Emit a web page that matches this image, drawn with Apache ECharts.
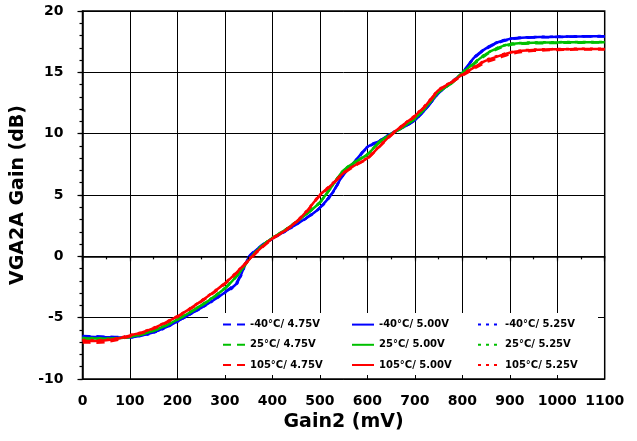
<!DOCTYPE html>
<html>
<head>
<meta charset="utf-8">
<script src="https://cdn.jsdelivr.net/npm/echarts@6/dist/echarts.min.js"></script>
<style>html,body{margin:0;padding:0;background:#fff}#c{width:637px;height:441px}</style>
</head>
<body>
<div id="c"></div>
<script>
// Gain2 (mV) sample points
const gain2 = [0,25,50,75,100,125,150,175,200,225,250,275,300,325,350,375,400,425,450,475,500,525,550,575,600,625,650,675,700,725,750,775,800,825,850,875,900,925,950,975,1000,1025,1050,1075,1100];

// VGA2A gain (dB)
const m40_475 = [-6.5,-6.52,-6.55,-6.58,-6.57,-6.42,-6.18,-5.78,-5.28,-4.72,-4.15,-3.55,-2.9,-2.1,-0.05,0.82,1.47,2.02,2.62,3.22,3.97,5.1,6.65,7.75,8.85,9.38,9.98,10.5,11.1,12.1,13.3,14.08,14.92,16.15,16.9,17.4,17.68,17.8,17.84,17.86,17.88,17.9,17.91,17.92,17.93];
const m40_500 = [-6.55,-6.57,-6.6,-6.62,-6.6,-6.45,-6.2,-5.8,-5.3,-4.75,-4.2,-3.6,-2.95,-2.2,-0.1,0.8,1.45,2.0,2.6,3.2,3.95,5.1,6.7,7.8,8.9,9.4,10.0,10.5,11.1,12.1,13.3,14.1,14.95,16.2,16.95,17.45,17.72,17.82,17.86,17.88,17.9,17.92,17.93,17.94,17.95];
const m40_525 = [-6.58,-6.6,-6.62,-6.64,-6.62,-6.47,-6.22,-5.82,-5.32,-4.77,-4.22,-3.62,-2.97,-2.25,-0.15,0.78,1.43,1.98,2.58,3.18,3.93,5.05,6.7,7.82,8.92,9.42,10.02,10.52,11.12,12.12,13.32,14.12,14.97,16.22,16.97,17.47,17.74,17.84,17.88,17.9,17.92,17.93,17.94,17.95,17.96];
const p25_475 = [-6.72,-6.74,-6.75,-6.7,-6.57,-6.37,-6.07,-5.67,-5.17,-4.62,-4.02,-3.37,-2.62,-1.62,-0.32,0.73,1.48,2.08,2.78,3.53,4.38,5.68,6.98,7.68,8.28,9.28,9.92,10.52,11.22,12.22,13.38,14.02,14.9,15.68,16.42,16.92,17.22,17.32,17.36,17.38,17.4,17.41,17.42,17.43,17.43];
const p25_500 = [-6.68,-6.7,-6.72,-6.68,-6.55,-6.35,-6.05,-5.65,-5.15,-4.6,-4.0,-3.35,-2.6,-1.6,-0.3,0.75,1.5,2.1,2.8,3.55,4.4,5.7,7.0,7.7,8.3,9.3,9.95,10.55,11.25,12.25,13.4,14.05,14.95,15.75,16.5,17.0,17.3,17.38,17.42,17.43,17.44,17.45,17.45,17.46,17.46];
const p25_525 = [-6.65,-6.67,-6.7,-6.66,-6.53,-6.33,-6.03,-5.63,-5.13,-4.58,-3.98,-3.33,-2.58,-1.58,-0.28,0.77,1.52,2.12,2.82,3.57,4.42,5.72,7.02,7.72,8.32,9.32,9.97,10.57,11.27,12.27,13.42,14.07,14.97,15.78,16.52,17.02,17.32,17.4,17.44,17.45,17.46,17.47,17.47,17.48,17.48];
const p105_475 = [-7.02,-7.04,-6.98,-6.8,-6.52,-6.26,-5.9,-5.45,-4.95,-4.35,-3.7,-3.0,-2.25,-1.35,-0.35,0.6,1.42,2.02,2.77,3.75,4.95,5.8,6.75,7.4,7.95,8.9,9.85,10.65,11.4,12.35,13.5,14.1,14.72,15.3,15.82,16.15,16.48,16.66,16.75,16.8,16.83,16.85,16.86,16.87,16.87];
const p105_500 = [-6.88,-6.9,-6.85,-6.7,-6.45,-6.2,-5.85,-5.4,-4.9,-4.3,-3.65,-2.95,-2.2,-1.3,-0.3,0.65,1.45,2.05,2.8,3.8,5.0,5.85,6.8,7.45,8.0,8.95,9.9,10.7,11.45,12.4,13.55,14.15,14.8,15.4,15.95,16.3,16.6,16.75,16.82,16.86,16.88,16.89,16.9,16.9,16.9];
const p105_525 = [-6.82,-6.84,-6.8,-6.66,-6.42,-6.17,-5.82,-5.37,-4.87,-4.27,-3.62,-2.92,-2.17,-1.27,-0.27,0.68,1.48,2.08,2.83,3.83,5.03,5.88,6.83,7.48,8.03,8.98,9.93,10.73,11.48,12.43,13.58,14.18,14.84,15.45,16.0,16.35,16.64,16.78,16.85,16.88,16.9,16.91,16.92,16.92,16.92];

const seriesNames = [
  ['-40°C/ 4.75V','-40°C/ 5.00V','-40°C/ 5.25V'],
  ['25°C/ 4.75V','25°C/ 5.00V','25°C/ 5.25V'],
  ['105°C/ 4.75V','105°C/ 5.00V','105°C/ 5.25V']
];
const seriesData = [[m40_475,m40_500,m40_525],[p25_475,p25_500,p25_525],[p105_475,p105_500,p105_525]];
const colors = ['#0000ff','#00c000','#ff0000'];
const dashTypes = [[8,6],'solid',[3,5]];

const FONT = 'DejaVu Sans';
const series = [];
for (let t = 0; t < 3; t++) {
  for (let v = 0; v < 3; v++) {
    series.push({
      name: seriesNames[t][v],
      type: 'line',
      symbol: 'none',
      smooth: 0.3,
      xAxisIndex: 0, yAxisIndex: 0,
      data: gain2.map((x, i) => [x, seriesData[t][v][i]]),
      lineStyle: { color: colors[t], width: 2.5, type: dashTypes[v] },
      itemStyle: { color: colors[t] },
      z: 3
    });
  }
}

function legendCol(col, left) {
  return {
    orient: 'vertical', left: left, top: 319,
    itemWidth: 22, itemHeight: 14, itemGap: 9, padding: 0,
    itemStyle: { opacity: 0 },
    textStyle: { fontFamily: FONT, fontWeight: 'bold', fontSize: 10, color: '#000' },
    data: [seriesNames[0][col], seriesNames[1][col], seriesNames[2][col]]
  };
}

const chart = echarts.init(document.getElementById('c'), null, { renderer: 'canvas' });
chart.setOption({
  animation: false,
  backgroundColor: '#fff',
  grid: { left: 82.5, top: 11, right: 32.3, bottom: 62, outerBoundsMode: 'none', containLabel: false, show: true, borderColor: '#000', borderWidth: 1.5, backgroundColor: 'transparent' },
  graphic: [{ type: 'rect', shape: { x: 208, y: 313, width: 390, height: 62 }, style: { fill: '#fff' }, z: 1 }],
  legend: [legendCol(0, 222), legendCol(1, 351), legendCol(2, 477)],
  xAxis: [{
    type: 'value', min: 0, max: 1100, interval: 100,
    name: 'Gain2 (mV)', nameLocation: 'middle', nameGap: 32,
    nameTextStyle: { fontFamily: FONT, fontWeight: 'bold', fontSize: 19, color: '#000' },
    axisLine: { show: true, lineStyle: { color: '#000', width: 1.5 } },
    axisTick: { show: true, inside: false, length: 5, lineStyle: { color: '#000', width: 1.2 } },
    axisLabel: { margin: 15, fontFamily: FONT, fontWeight: 'bold', fontSize: 14, color: '#000', formatter: v => String(v) },
    splitLine: { show: true, lineStyle: { color: '#000', width: 1 } }
  }, {
    type: 'value', min: 0, max: 1100, interval: 50, gridIndex: 0,
    axisLine: { show: false }, axisLabel: { show: false }, splitLine: { show: false },
    axisTick: { show: true, inside: true, length: 3, lineStyle: { color: '#000', width: 1.2 } }, z: 5
  }],
  yAxis: [{
    type: 'value', min: -10, max: 20, interval: 5,
    name: 'VGA2A Gain (dB)', nameLocation: 'middle', nameGap: 43, nameRotate: 90,
    nameTextStyle: { fontFamily: FONT, fontWeight: 'bold', fontSize: 19, color: '#000' },
    axisLine: { show: true, lineStyle: { color: '#000', width: 1.5 } },
    axisTick: { show: true, inside: false, length: 5, lineStyle: { color: '#000', width: 1.2 } },
    axisLabel: { margin: 19, fontFamily: FONT, fontWeight: 'bold', fontSize: 14, color: '#000', formatter: v => String(v) },
    splitLine: { show: true, lineStyle: { color: '#000', width: 1 } }
  }, {
    type: 'value', min: -10, max: 20, interval: 1, gridIndex: 0,
    axisLine: { show: false }, axisLabel: { show: false }, splitLine: { show: false },
    axisTick: { show: true, inside: true, length: 3, lineStyle: { color: '#000', width: 1.2 } }, z: 5
  }],
  series: series
});
</script>
</body>
</html>
